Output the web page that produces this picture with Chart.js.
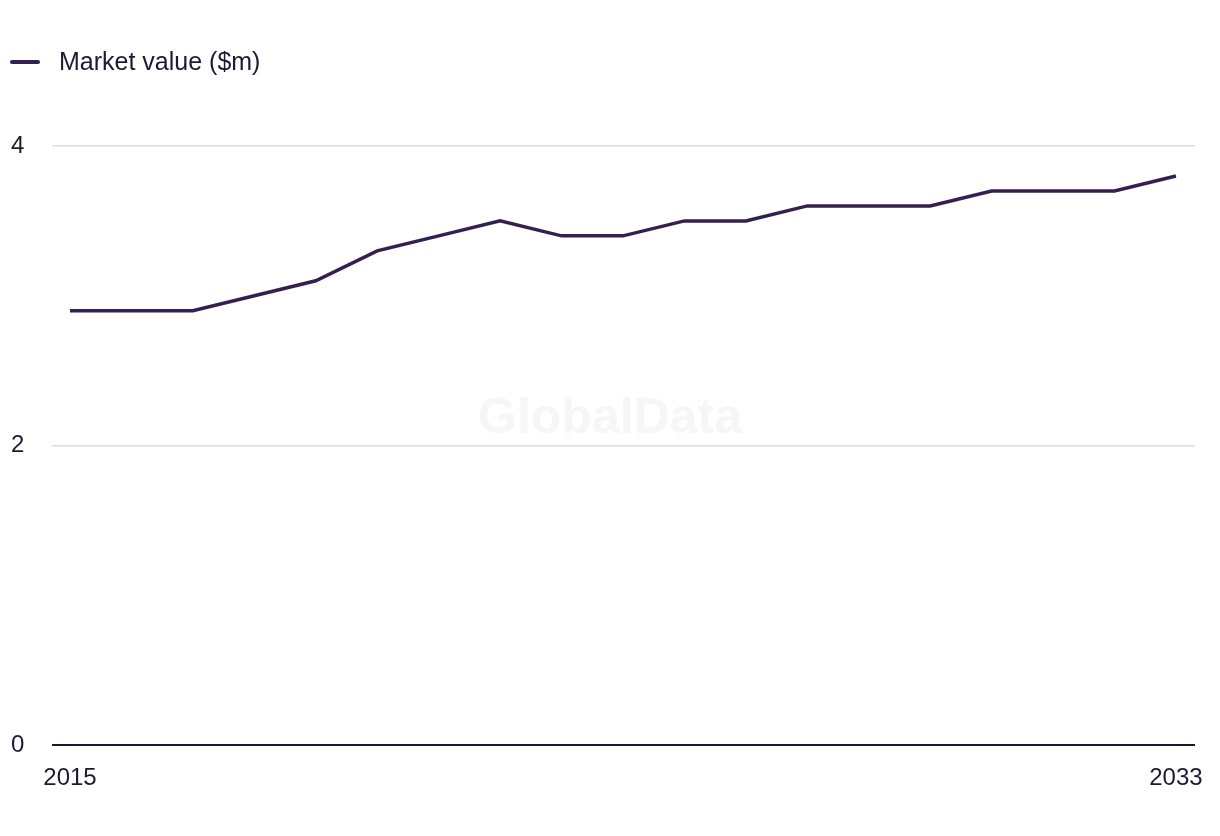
<!DOCTYPE html>
<html>
<head>
<meta charset="utf-8">
<script src="https://cdn.jsdelivr.net/npm/chart.js@4/dist/chart.umd.min.js"></script>
<style>
  body { margin: 0; background: #fff; font-family: 'Liberation Sans', Arial, sans-serif; }
  #wrap { position: relative; width: 1220px; height: 836px; }
  .legend { position: absolute; left: 10px; top: 47px; display: flex; align-items: center; color: #1c1a33; font-size: 25px; }
  .legend .swatch { width: 30px; height: 4px; border-radius: 2px; background: #33204f; margin-right: 19px; }
</style>
</head>
<body>
<div id="wrap">
  <div class="legend"><span class="swatch"></span><span>Market value ($m)</span></div>
  <canvas id="myChart" width="1220" height="836"></canvas>
</div>
<script>
// market value by year, $m
const years = [2015, 2016, 2017, 2018, 2019, 2020, 2021, 2022, 2023, 2024,
  2025, 2026, 2027, 2028, 2029, 2030, 2031, 2032, 2033];
const marketValue = [2.9, 2.9, 2.9, 3.0, 3.1, 3.3, 3.4, 3.5, 3.4, 3.4,
  3.5, 3.5, 3.6, 3.6, 3.6, 3.7, 3.7, 3.7, 3.8];
const xTicks = [2015, 2033];
const yTicks = [0, 2, 4];

const lineColor = '#33204f';
const textColor = '#1c1a33';

// faint watermark in the middle of the plot
const watermark = {
  id: 'watermark',
  beforeDatasetsDraw(chart) {
    const ctx = chart.ctx;
    ctx.save();
    ctx.font = 'bold 50px "Liberation Sans", Arial, sans-serif';
    ctx.fillStyle = '#f6f6f6';
    ctx.textAlign = 'center';
    ctx.textBaseline = 'middle';
    ctx.fillText('GlobalData', 610, 419);
    ctx.restore();
  }
};

const ctx = document.getElementById('myChart').getContext('2d');
new Chart(ctx, {
  type: 'line',
  data: {
    datasets: [{
      label: 'Market value ($m)',
      data: years.map((y, i) => ({ x: y, y: marketValue[i] })),
      borderColor: lineColor,
      borderWidth: 3.5,
      pointRadius: 0,
      tension: 0,
      fill: false
    }]
  },
  options: {
    responsive: false,
    animation: false,
    layout: { padding: { left: 11, right: 25, top: 146, bottom: 0 } },
    plugins: { legend: { display: false }, tooltip: { enabled: false } },
    scales: {
      x: {
        type: 'linear',
        min: 2014.707,
        max: 2033.31,
        afterBuildTicks: s => { s.ticks = xTicks.map(v => ({ value: v })); },
        afterFit: s => { s.height = 91; },
        grid: { display: false },
        border: { display: false },
        ticks: {
          color: textColor,
          font: { size: 24, family: "'Liberation Sans', Arial, sans-serif" },
          padding: 11,
          maxRotation: 0,
          callback: v => String(v)
        }
      },
      y: {
        min: 0,
        max: 4,
        afterBuildTicks: s => { s.ticks = yTicks.map(v => ({ value: v })); },
        afterFit: s => { s.width = 41; },
        border: { display: false },
        grid: {
          drawTicks: false,
          color: c => c.tick && c.tick.value === 0 ? '#1c1a33' : '#dcdcdc',
          lineWidth: c => c.tick && c.tick.value === 0 ? 2 : 1.5
        },
        ticks: {
          color: textColor,
          crossAlign: 'far',
          font: { size: 24, family: "'Liberation Sans', Arial, sans-serif" }
        }
      }
    }
  },
  plugins: [watermark]
});
</script>
</body>
</html>
